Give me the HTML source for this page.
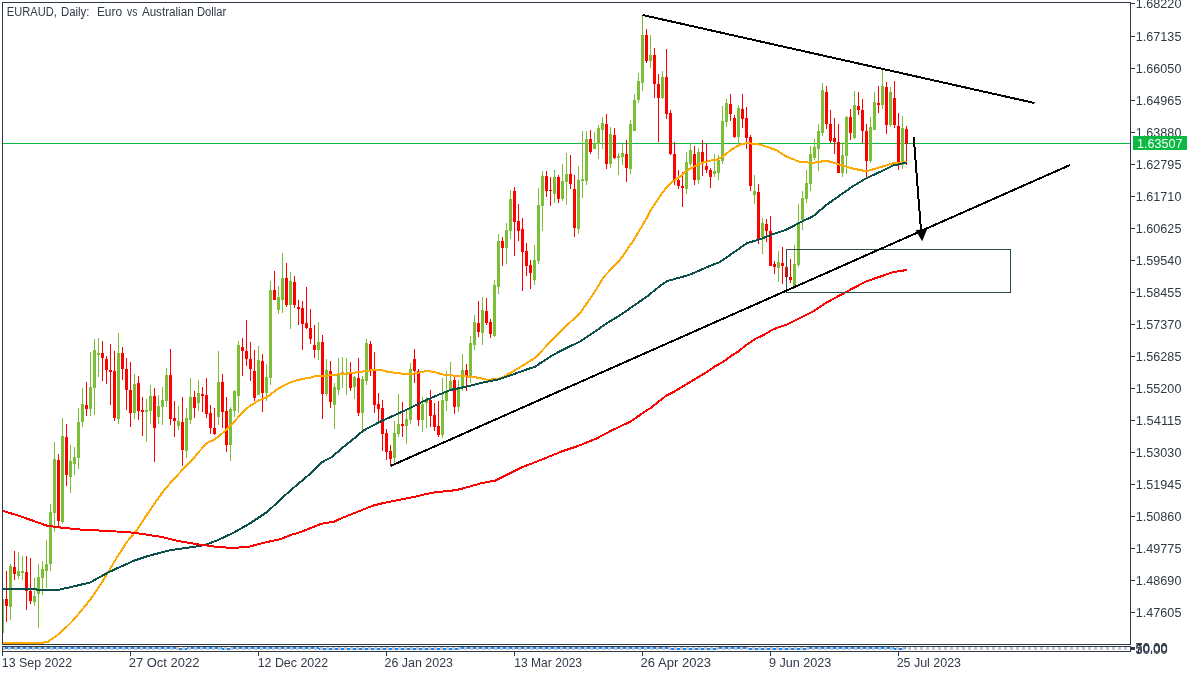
<!DOCTYPE html>
<html><head><meta charset="utf-8"><title>EURAUD Daily</title>
<style>html,body{margin:0;padding:0;background:#fff;overflow:hidden}body{width:1200px;height:675px;position:relative}</style></head>
<body>
<svg width="1200" height="675" viewBox="0 0 1200 675" style="position:absolute;left:0;top:0;will-change:transform">
<rect x="3" y="143" width="1127" height="1" fill="#0BBA42" shape-rendering="crispEdges"/>
<g shape-rendering="crispEdges">
<rect x="3" y="599" width="1" height="34" fill="#7CBE37"/>
<rect x="6" y="571" width="1" height="51" fill="#FF0000"/>
<rect x="5" y="599" width="3" height="7" fill="#FF0000"/>
<rect x="10" y="564" width="1" height="56" fill="#7CBE37"/>
<rect x="9" y="566" width="3" height="41" fill="#7CBE37"/>
<rect x="14" y="551" width="1" height="29" fill="#FF0000"/>
<rect x="13" y="567" width="3" height="7" fill="#FF0000"/>
<rect x="18" y="552" width="1" height="27" fill="#7CBE37"/>
<rect x="17" y="571" width="3" height="5" fill="#7CBE37"/>
<rect x="22" y="556" width="1" height="24" fill="#7CBE37"/>
<rect x="21" y="571" width="3" height="2" fill="#7CBE37"/>
<rect x="26" y="556" width="1" height="54" fill="#FF0000"/>
<rect x="25" y="572" width="3" height="19" fill="#FF0000"/>
<rect x="30" y="558" width="1" height="46" fill="#FF0000"/>
<rect x="29" y="591" width="3" height="10" fill="#FF0000"/>
<rect x="34" y="578" width="1" height="28" fill="#7CBE37"/>
<rect x="33" y="596" width="3" height="6" fill="#7CBE37"/>
<rect x="38" y="564" width="1" height="64" fill="#7CBE37"/>
<rect x="37" y="577" width="3" height="17" fill="#7CBE37"/>
<rect x="42" y="561" width="1" height="34" fill="#7CBE37"/>
<rect x="41" y="569" width="3" height="9" fill="#7CBE37"/>
<rect x="46" y="540" width="1" height="48" fill="#7CBE37"/>
<rect x="45" y="564" width="3" height="7" fill="#7CBE37"/>
<rect x="50" y="504" width="1" height="67" fill="#7CBE37"/>
<rect x="49" y="512" width="3" height="52" fill="#7CBE37"/>
<rect x="54" y="442" width="1" height="90" fill="#7CBE37"/>
<rect x="53" y="459" width="3" height="54" fill="#7CBE37"/>
<rect x="58" y="454" width="1" height="72" fill="#FF0000"/>
<rect x="57" y="460" width="3" height="61" fill="#FF0000"/>
<rect x="62" y="418" width="1" height="106" fill="#7CBE37"/>
<rect x="61" y="436" width="3" height="86" fill="#7CBE37"/>
<rect x="66" y="424" width="1" height="62" fill="#FF0000"/>
<rect x="65" y="437" width="3" height="38" fill="#FF0000"/>
<rect x="70" y="445" width="1" height="48" fill="#7CBE37"/>
<rect x="69" y="461" width="3" height="16" fill="#7CBE37"/>
<rect x="74" y="447" width="1" height="28" fill="#7CBE37"/>
<rect x="73" y="457" width="3" height="7" fill="#7CBE37"/>
<rect x="78" y="408" width="1" height="61" fill="#7CBE37"/>
<rect x="77" y="422" width="3" height="36" fill="#7CBE37"/>
<rect x="82" y="388" width="1" height="39" fill="#7CBE37"/>
<rect x="81" y="404" width="3" height="18" fill="#7CBE37"/>
<rect x="86" y="382" width="1" height="34" fill="#FF0000"/>
<rect x="85" y="405" width="3" height="4" fill="#FF0000"/>
<rect x="90" y="352" width="1" height="64" fill="#7CBE37"/>
<rect x="89" y="387" width="3" height="22" fill="#7CBE37"/>
<rect x="94" y="339" width="1" height="76" fill="#7CBE37"/>
<rect x="93" y="350" width="3" height="38" fill="#7CBE37"/>
<rect x="98" y="338" width="1" height="39" fill="#7CBE37"/>
<rect x="97" y="353" width="3" height="2" fill="#7CBE37"/>
<rect x="102" y="341" width="1" height="40" fill="#FF0000"/>
<rect x="101" y="353" width="3" height="5" fill="#FF0000"/>
<rect x="106" y="356" width="1" height="28" fill="#FF0000"/>
<rect x="105" y="359" width="3" height="11" fill="#FF0000"/>
<rect x="110" y="344" width="1" height="61" fill="#FF0000"/>
<rect x="109" y="370" width="3" height="2" fill="#FF0000"/>
<rect x="114" y="351" width="1" height="70" fill="#FF0000"/>
<rect x="113" y="371" width="3" height="47" fill="#FF0000"/>
<rect x="118" y="333" width="1" height="91" fill="#7CBE37"/>
<rect x="117" y="353" width="3" height="66" fill="#7CBE37"/>
<rect x="122" y="347" width="1" height="33" fill="#FF0000"/>
<rect x="121" y="353" width="3" height="16" fill="#FF0000"/>
<rect x="126" y="358" width="1" height="52" fill="#FF0000"/>
<rect x="125" y="369" width="3" height="21" fill="#FF0000"/>
<rect x="130" y="362" width="1" height="65" fill="#FF0000"/>
<rect x="129" y="390" width="3" height="23" fill="#FF0000"/>
<rect x="134" y="374" width="1" height="45" fill="#7CBE37"/>
<rect x="133" y="384" width="3" height="29" fill="#7CBE37"/>
<rect x="138" y="376" width="1" height="44" fill="#FF0000"/>
<rect x="137" y="383" width="3" height="28" fill="#FF0000"/>
<rect x="142" y="397" width="1" height="39" fill="#FF0000"/>
<rect x="141" y="410" width="3" height="2" fill="#FF0000"/>
<rect x="146" y="399" width="1" height="43" fill="#7CBE37"/>
<rect x="145" y="410" width="3" height="2" fill="#7CBE37"/>
<rect x="150" y="385" width="1" height="39" fill="#7CBE37"/>
<rect x="149" y="396" width="3" height="15" fill="#7CBE37"/>
<rect x="154" y="388" width="1" height="74" fill="#FF0000"/>
<rect x="153" y="396" width="3" height="32" fill="#FF0000"/>
<rect x="158" y="395" width="1" height="29" fill="#7CBE37"/>
<rect x="157" y="406" width="3" height="11" fill="#7CBE37"/>
<rect x="162" y="387" width="1" height="38" fill="#7CBE37"/>
<rect x="161" y="400" width="3" height="7" fill="#7CBE37"/>
<rect x="166" y="368" width="1" height="39" fill="#7CBE37"/>
<rect x="165" y="375" width="3" height="26" fill="#7CBE37"/>
<rect x="170" y="349" width="1" height="76" fill="#FF0000"/>
<rect x="169" y="375" width="3" height="44" fill="#FF0000"/>
<rect x="174" y="401" width="1" height="36" fill="#FF0000"/>
<rect x="173" y="418" width="3" height="3" fill="#FF0000"/>
<rect x="178" y="406" width="1" height="24" fill="#7CBE37"/>
<rect x="177" y="421" width="3" height="5" fill="#7CBE37"/>
<rect x="182" y="397" width="1" height="69" fill="#FF0000"/>
<rect x="181" y="422" width="3" height="28" fill="#FF0000"/>
<rect x="186" y="408" width="1" height="50" fill="#7CBE37"/>
<rect x="185" y="418" width="3" height="33" fill="#7CBE37"/>
<rect x="190" y="378" width="1" height="46" fill="#7CBE37"/>
<rect x="189" y="397" width="3" height="23" fill="#7CBE37"/>
<rect x="194" y="391" width="1" height="27" fill="#FF0000"/>
<rect x="193" y="397" width="3" height="11" fill="#FF0000"/>
<rect x="198" y="380" width="1" height="31" fill="#7CBE37"/>
<rect x="197" y="393" width="3" height="10" fill="#7CBE37"/>
<rect x="202" y="387" width="1" height="25" fill="#FF0000"/>
<rect x="201" y="394" width="3" height="2" fill="#FF0000"/>
<rect x="206" y="378" width="1" height="40" fill="#FF0000"/>
<rect x="205" y="395" width="3" height="19" fill="#FF0000"/>
<rect x="210" y="405" width="1" height="29" fill="#FF0000"/>
<rect x="209" y="413" width="3" height="15" fill="#FF0000"/>
<rect x="214" y="408" width="1" height="27" fill="#FF0000"/>
<rect x="213" y="428" width="3" height="6" fill="#FF0000"/>
<rect x="218" y="351" width="1" height="74" fill="#7CBE37"/>
<rect x="217" y="382" width="3" height="35" fill="#7CBE37"/>
<rect x="222" y="374" width="1" height="54" fill="#FF0000"/>
<rect x="221" y="382" width="3" height="30" fill="#FF0000"/>
<rect x="226" y="397" width="1" height="55" fill="#FF0000"/>
<rect x="225" y="411" width="3" height="34" fill="#FF0000"/>
<rect x="230" y="407" width="1" height="54" fill="#7CBE37"/>
<rect x="229" y="409" width="3" height="36" fill="#7CBE37"/>
<rect x="234" y="390" width="1" height="27" fill="#7CBE37"/>
<rect x="233" y="391" width="3" height="20" fill="#7CBE37"/>
<rect x="238" y="341" width="1" height="72" fill="#7CBE37"/>
<rect x="237" y="345" width="3" height="51" fill="#7CBE37"/>
<rect x="242" y="338" width="1" height="38" fill="#FF0000"/>
<rect x="241" y="347" width="3" height="4" fill="#FF0000"/>
<rect x="246" y="320" width="1" height="46" fill="#FF0000"/>
<rect x="245" y="351" width="3" height="8" fill="#FF0000"/>
<rect x="250" y="342" width="1" height="39" fill="#FF0000"/>
<rect x="249" y="359" width="3" height="10" fill="#FF0000"/>
<rect x="254" y="350" width="1" height="51" fill="#FF0000"/>
<rect x="253" y="371" width="3" height="27" fill="#FF0000"/>
<rect x="258" y="346" width="1" height="49" fill="#7CBE37"/>
<rect x="257" y="360" width="3" height="35" fill="#7CBE37"/>
<rect x="262" y="354" width="1" height="58" fill="#FF0000"/>
<rect x="261" y="361" width="3" height="32" fill="#FF0000"/>
<rect x="266" y="364" width="1" height="37" fill="#7CBE37"/>
<rect x="265" y="377" width="3" height="16" fill="#7CBE37"/>
<rect x="270" y="281" width="1" height="104" fill="#7CBE37"/>
<rect x="269" y="290" width="3" height="88" fill="#7CBE37"/>
<rect x="274" y="271" width="1" height="29" fill="#FF0000"/>
<rect x="273" y="290" width="3" height="10" fill="#FF0000"/>
<rect x="278" y="286" width="1" height="28" fill="#7CBE37"/>
<rect x="277" y="297" width="3" height="13" fill="#7CBE37"/>
<rect x="282" y="253" width="1" height="60" fill="#7CBE37"/>
<rect x="281" y="278" width="3" height="22" fill="#7CBE37"/>
<rect x="286" y="263" width="1" height="44" fill="#FF0000"/>
<rect x="285" y="278" width="3" height="27" fill="#FF0000"/>
<rect x="290" y="272" width="1" height="57" fill="#7CBE37"/>
<rect x="289" y="281" width="3" height="24" fill="#7CBE37"/>
<rect x="294" y="276" width="1" height="32" fill="#FF0000"/>
<rect x="293" y="282" width="3" height="23" fill="#FF0000"/>
<rect x="298" y="300" width="1" height="25" fill="#FF0000"/>
<rect x="297" y="307" width="3" height="2" fill="#FF0000"/>
<rect x="302" y="301" width="1" height="49" fill="#FF0000"/>
<rect x="301" y="308" width="3" height="16" fill="#FF0000"/>
<rect x="306" y="287" width="1" height="42" fill="#FF0000"/>
<rect x="305" y="323" width="3" height="5" fill="#FF0000"/>
<rect x="310" y="309" width="1" height="35" fill="#FF0000"/>
<rect x="309" y="328" width="3" height="11" fill="#FF0000"/>
<rect x="314" y="325" width="1" height="33" fill="#FF0000"/>
<rect x="313" y="345" width="3" height="5" fill="#FF0000"/>
<rect x="318" y="322" width="1" height="38" fill="#7CBE37"/>
<rect x="317" y="342" width="3" height="8" fill="#7CBE37"/>
<rect x="322" y="335" width="1" height="84" fill="#FF0000"/>
<rect x="321" y="342" width="3" height="52" fill="#FF0000"/>
<rect x="326" y="359" width="1" height="37" fill="#7CBE37"/>
<rect x="325" y="370" width="3" height="24" fill="#7CBE37"/>
<rect x="330" y="361" width="1" height="47" fill="#FF0000"/>
<rect x="329" y="371" width="3" height="31" fill="#FF0000"/>
<rect x="334" y="383" width="1" height="46" fill="#7CBE37"/>
<rect x="333" y="387" width="3" height="18" fill="#7CBE37"/>
<rect x="338" y="358" width="1" height="37" fill="#7CBE37"/>
<rect x="337" y="374" width="3" height="16" fill="#7CBE37"/>
<rect x="342" y="357" width="1" height="31" fill="#7CBE37"/>
<rect x="341" y="372" width="3" height="2" fill="#7CBE37"/>
<rect x="346" y="358" width="1" height="37" fill="#7CBE37"/>
<rect x="345" y="373" width="3" height="2" fill="#7CBE37"/>
<rect x="350" y="362" width="1" height="29" fill="#FF0000"/>
<rect x="349" y="373" width="3" height="15" fill="#FF0000"/>
<rect x="354" y="376" width="1" height="23" fill="#7CBE37"/>
<rect x="353" y="377" width="3" height="10" fill="#7CBE37"/>
<rect x="358" y="358" width="1" height="58" fill="#FF0000"/>
<rect x="357" y="378" width="3" height="35" fill="#FF0000"/>
<rect x="362" y="376" width="1" height="54" fill="#7CBE37"/>
<rect x="361" y="379" width="3" height="34" fill="#7CBE37"/>
<rect x="366" y="339" width="1" height="46" fill="#7CBE37"/>
<rect x="365" y="343" width="3" height="38" fill="#7CBE37"/>
<rect x="370" y="341" width="1" height="35" fill="#FF0000"/>
<rect x="369" y="344" width="3" height="26" fill="#FF0000"/>
<rect x="374" y="352" width="1" height="61" fill="#FF0000"/>
<rect x="373" y="370" width="3" height="35" fill="#FF0000"/>
<rect x="378" y="393" width="1" height="28" fill="#FF0000"/>
<rect x="377" y="404" width="3" height="5" fill="#FF0000"/>
<rect x="382" y="400" width="1" height="51" fill="#FF0000"/>
<rect x="381" y="408" width="3" height="26" fill="#FF0000"/>
<rect x="386" y="429" width="1" height="31" fill="#FF0000"/>
<rect x="385" y="433" width="3" height="19" fill="#FF0000"/>
<rect x="390" y="445" width="1" height="20" fill="#FF0000"/>
<rect x="389" y="451" width="3" height="8" fill="#FF0000"/>
<rect x="394" y="421" width="1" height="42" fill="#7CBE37"/>
<rect x="393" y="433" width="3" height="25" fill="#7CBE37"/>
<rect x="398" y="394" width="1" height="43" fill="#7CBE37"/>
<rect x="397" y="424" width="3" height="10" fill="#7CBE37"/>
<rect x="402" y="402" width="1" height="35" fill="#FF0000"/>
<rect x="401" y="424" width="3" height="2" fill="#FF0000"/>
<rect x="406" y="411" width="1" height="33" fill="#7CBE37"/>
<rect x="405" y="419" width="3" height="7" fill="#7CBE37"/>
<rect x="410" y="363" width="1" height="61" fill="#7CBE37"/>
<rect x="409" y="369" width="3" height="51" fill="#7CBE37"/>
<rect x="414" y="349" width="1" height="34" fill="#FF0000"/>
<rect x="413" y="359" width="3" height="12" fill="#FF0000"/>
<rect x="418" y="369" width="1" height="57" fill="#FF0000"/>
<rect x="417" y="371" width="3" height="49" fill="#FF0000"/>
<rect x="422" y="397" width="1" height="35" fill="#7CBE37"/>
<rect x="421" y="404" width="3" height="16" fill="#7CBE37"/>
<rect x="426" y="397" width="1" height="31" fill="#7CBE37"/>
<rect x="425" y="401" width="3" height="2" fill="#7CBE37"/>
<rect x="430" y="390" width="1" height="37" fill="#FF0000"/>
<rect x="429" y="400" width="3" height="16" fill="#FF0000"/>
<rect x="434" y="403" width="1" height="28" fill="#FF0000"/>
<rect x="433" y="415" width="3" height="12" fill="#FF0000"/>
<rect x="438" y="401" width="1" height="36" fill="#FF0000"/>
<rect x="437" y="426" width="3" height="9" fill="#FF0000"/>
<rect x="442" y="378" width="1" height="60" fill="#7CBE37"/>
<rect x="441" y="400" width="3" height="35" fill="#7CBE37"/>
<rect x="446" y="371" width="1" height="40" fill="#7CBE37"/>
<rect x="445" y="391" width="3" height="10" fill="#7CBE37"/>
<rect x="450" y="362" width="1" height="29" fill="#7CBE37"/>
<rect x="449" y="381" width="3" height="9" fill="#7CBE37"/>
<rect x="454" y="377" width="1" height="37" fill="#FF0000"/>
<rect x="453" y="380" width="3" height="27" fill="#FF0000"/>
<rect x="458" y="380" width="1" height="32" fill="#7CBE37"/>
<rect x="457" y="389" width="3" height="18" fill="#7CBE37"/>
<rect x="462" y="354" width="1" height="37" fill="#7CBE37"/>
<rect x="461" y="370" width="3" height="18" fill="#7CBE37"/>
<rect x="466" y="364" width="1" height="27" fill="#FF0000"/>
<rect x="465" y="370" width="3" height="6" fill="#FF0000"/>
<rect x="470" y="336" width="1" height="47" fill="#7CBE37"/>
<rect x="469" y="343" width="3" height="33" fill="#7CBE37"/>
<rect x="474" y="315" width="1" height="35" fill="#7CBE37"/>
<rect x="473" y="322" width="3" height="23" fill="#7CBE37"/>
<rect x="478" y="301" width="1" height="36" fill="#FF0000"/>
<rect x="477" y="323" width="3" height="9" fill="#FF0000"/>
<rect x="482" y="297" width="1" height="48" fill="#7CBE37"/>
<rect x="481" y="310" width="3" height="23" fill="#7CBE37"/>
<rect x="486" y="298" width="1" height="27" fill="#FF0000"/>
<rect x="485" y="311" width="3" height="12" fill="#FF0000"/>
<rect x="490" y="319" width="1" height="19" fill="#FF0000"/>
<rect x="489" y="322" width="3" height="12" fill="#FF0000"/>
<rect x="494" y="280" width="1" height="57" fill="#7CBE37"/>
<rect x="493" y="285" width="3" height="51" fill="#7CBE37"/>
<rect x="498" y="234" width="1" height="60" fill="#7CBE37"/>
<rect x="497" y="241" width="3" height="46" fill="#7CBE37"/>
<rect x="502" y="237" width="1" height="29" fill="#FF0000"/>
<rect x="501" y="241" width="3" height="7" fill="#FF0000"/>
<rect x="506" y="223" width="1" height="41" fill="#7CBE37"/>
<rect x="505" y="230" width="3" height="18" fill="#7CBE37"/>
<rect x="510" y="190" width="1" height="49" fill="#7CBE37"/>
<rect x="509" y="199" width="3" height="32" fill="#7CBE37"/>
<rect x="514" y="187" width="1" height="69" fill="#FF0000"/>
<rect x="513" y="191" width="3" height="31" fill="#FF0000"/>
<rect x="518" y="204" width="1" height="37" fill="#FF0000"/>
<rect x="517" y="221" width="3" height="10" fill="#FF0000"/>
<rect x="522" y="218" width="1" height="73" fill="#FF0000"/>
<rect x="521" y="229" width="3" height="23" fill="#FF0000"/>
<rect x="526" y="243" width="1" height="33" fill="#FF0000"/>
<rect x="525" y="251" width="3" height="15" fill="#FF0000"/>
<rect x="530" y="260" width="1" height="29" fill="#FF0000"/>
<rect x="529" y="265" width="3" height="8" fill="#FF0000"/>
<rect x="534" y="245" width="1" height="40" fill="#7CBE37"/>
<rect x="533" y="260" width="3" height="20" fill="#7CBE37"/>
<rect x="538" y="188" width="1" height="76" fill="#7CBE37"/>
<rect x="537" y="205" width="3" height="56" fill="#7CBE37"/>
<rect x="542" y="171" width="1" height="60" fill="#7CBE37"/>
<rect x="541" y="176" width="3" height="30" fill="#7CBE37"/>
<rect x="546" y="171" width="1" height="26" fill="#FF0000"/>
<rect x="545" y="176" width="3" height="15" fill="#FF0000"/>
<rect x="550" y="177" width="1" height="29" fill="#FF0000"/>
<rect x="549" y="190" width="3" height="1" fill="#FF0000"/>
<rect x="554" y="170" width="1" height="33" fill="#7CBE37"/>
<rect x="553" y="177" width="3" height="17" fill="#7CBE37"/>
<rect x="558" y="175" width="1" height="28" fill="#FF0000"/>
<rect x="557" y="177" width="3" height="22" fill="#FF0000"/>
<rect x="562" y="164" width="1" height="37" fill="#7CBE37"/>
<rect x="561" y="181" width="3" height="18" fill="#7CBE37"/>
<rect x="566" y="153" width="1" height="52" fill="#7CBE37"/>
<rect x="565" y="174" width="3" height="8" fill="#7CBE37"/>
<rect x="570" y="155" width="1" height="34" fill="#FF0000"/>
<rect x="569" y="174" width="3" height="10" fill="#FF0000"/>
<rect x="574" y="175" width="1" height="62" fill="#FF0000"/>
<rect x="573" y="189" width="3" height="39" fill="#FF0000"/>
<rect x="578" y="166" width="1" height="68" fill="#7CBE37"/>
<rect x="577" y="180" width="3" height="49" fill="#7CBE37"/>
<rect x="582" y="131" width="1" height="67" fill="#7CBE37"/>
<rect x="581" y="179" width="3" height="2" fill="#7CBE37"/>
<rect x="586" y="131" width="1" height="54" fill="#7CBE37"/>
<rect x="585" y="139" width="3" height="42" fill="#7CBE37"/>
<rect x="590" y="130" width="1" height="24" fill="#FF0000"/>
<rect x="589" y="139" width="3" height="13" fill="#FF0000"/>
<rect x="594" y="132" width="1" height="17" fill="#7CBE37"/>
<rect x="593" y="143" width="3" height="6" fill="#7CBE37"/>
<rect x="598" y="125" width="1" height="34" fill="#7CBE37"/>
<rect x="597" y="128" width="3" height="16" fill="#7CBE37"/>
<rect x="602" y="117" width="1" height="32" fill="#7CBE37"/>
<rect x="601" y="123" width="3" height="7" fill="#7CBE37"/>
<rect x="606" y="114" width="1" height="55" fill="#FF0000"/>
<rect x="605" y="124" width="3" height="40" fill="#FF0000"/>
<rect x="610" y="127" width="1" height="41" fill="#7CBE37"/>
<rect x="609" y="134" width="3" height="30" fill="#7CBE37"/>
<rect x="614" y="128" width="1" height="31" fill="#FF0000"/>
<rect x="613" y="135" width="3" height="23" fill="#FF0000"/>
<rect x="618" y="153" width="1" height="22" fill="#7CBE37"/>
<rect x="617" y="156" width="3" height="2" fill="#7CBE37"/>
<rect x="622" y="144" width="1" height="21" fill="#7CBE37"/>
<rect x="621" y="153" width="3" height="4" fill="#7CBE37"/>
<rect x="626" y="140" width="1" height="42" fill="#FF0000"/>
<rect x="625" y="154" width="3" height="14" fill="#FF0000"/>
<rect x="630" y="120" width="1" height="54" fill="#7CBE37"/>
<rect x="629" y="124" width="3" height="45" fill="#7CBE37"/>
<rect x="634" y="94" width="1" height="37" fill="#7CBE37"/>
<rect x="633" y="100" width="3" height="31" fill="#7CBE37"/>
<rect x="638" y="73" width="1" height="30" fill="#7CBE37"/>
<rect x="637" y="81" width="3" height="19" fill="#7CBE37"/>
<rect x="642" y="15" width="1" height="76" fill="#7CBE37"/>
<rect x="641" y="35" width="3" height="48" fill="#7CBE37"/>
<rect x="646" y="29" width="1" height="34" fill="#FF0000"/>
<rect x="645" y="35" width="3" height="26" fill="#FF0000"/>
<rect x="650" y="35" width="1" height="33" fill="#7CBE37"/>
<rect x="649" y="55" width="3" height="6" fill="#7CBE37"/>
<rect x="654" y="48" width="1" height="50" fill="#FF0000"/>
<rect x="653" y="55" width="3" height="29" fill="#FF0000"/>
<rect x="658" y="74" width="1" height="68" fill="#FF0000"/>
<rect x="657" y="84" width="3" height="14" fill="#FF0000"/>
<rect x="662" y="71" width="1" height="28" fill="#7CBE37"/>
<rect x="661" y="77" width="3" height="21" fill="#7CBE37"/>
<rect x="666" y="49" width="1" height="70" fill="#FF0000"/>
<rect x="665" y="77" width="3" height="37" fill="#FF0000"/>
<rect x="670" y="110" width="1" height="45" fill="#FF0000"/>
<rect x="669" y="113" width="3" height="41" fill="#FF0000"/>
<rect x="674" y="142" width="1" height="43" fill="#FF0000"/>
<rect x="673" y="154" width="3" height="26" fill="#FF0000"/>
<rect x="678" y="170" width="1" height="19" fill="#FF0000"/>
<rect x="677" y="180" width="3" height="6" fill="#FF0000"/>
<rect x="682" y="172" width="1" height="35" fill="#FF0000"/>
<rect x="681" y="186" width="3" height="2" fill="#FF0000"/>
<rect x="686" y="152" width="1" height="42" fill="#7CBE37"/>
<rect x="685" y="162" width="3" height="27" fill="#7CBE37"/>
<rect x="690" y="143" width="1" height="23" fill="#7CBE37"/>
<rect x="689" y="150" width="3" height="14" fill="#7CBE37"/>
<rect x="694" y="146" width="1" height="39" fill="#FF0000"/>
<rect x="693" y="154" width="3" height="26" fill="#FF0000"/>
<rect x="698" y="148" width="1" height="36" fill="#7CBE37"/>
<rect x="697" y="152" width="3" height="28" fill="#7CBE37"/>
<rect x="702" y="140" width="1" height="36" fill="#FF0000"/>
<rect x="701" y="152" width="3" height="12" fill="#FF0000"/>
<rect x="706" y="143" width="1" height="30" fill="#FF0000"/>
<rect x="705" y="166" width="3" height="4" fill="#FF0000"/>
<rect x="710" y="168" width="1" height="20" fill="#FF0000"/>
<rect x="709" y="170" width="3" height="7" fill="#FF0000"/>
<rect x="714" y="154" width="1" height="23" fill="#7CBE37"/>
<rect x="713" y="171" width="3" height="3" fill="#7CBE37"/>
<rect x="718" y="155" width="1" height="25" fill="#7CBE37"/>
<rect x="717" y="160" width="3" height="13" fill="#7CBE37"/>
<rect x="722" y="106" width="1" height="58" fill="#7CBE37"/>
<rect x="721" y="121" width="3" height="40" fill="#7CBE37"/>
<rect x="726" y="99" width="1" height="28" fill="#7CBE37"/>
<rect x="725" y="103" width="3" height="19" fill="#7CBE37"/>
<rect x="730" y="94" width="1" height="27" fill="#FF0000"/>
<rect x="729" y="104" width="3" height="10" fill="#FF0000"/>
<rect x="734" y="115" width="1" height="23" fill="#FF0000"/>
<rect x="733" y="118" width="3" height="19" fill="#FF0000"/>
<rect x="738" y="105" width="1" height="39" fill="#7CBE37"/>
<rect x="737" y="108" width="3" height="29" fill="#7CBE37"/>
<rect x="742" y="94" width="1" height="34" fill="#FF0000"/>
<rect x="741" y="109" width="3" height="10" fill="#FF0000"/>
<rect x="746" y="107" width="1" height="42" fill="#FF0000"/>
<rect x="745" y="118" width="3" height="20" fill="#FF0000"/>
<rect x="750" y="135" width="1" height="56" fill="#FF0000"/>
<rect x="749" y="137" width="3" height="49" fill="#FF0000"/>
<rect x="754" y="175" width="1" height="29" fill="#7CBE37"/>
<rect x="753" y="191" width="3" height="4" fill="#7CBE37"/>
<rect x="758" y="184" width="1" height="60" fill="#FF0000"/>
<rect x="757" y="192" width="3" height="47" fill="#FF0000"/>
<rect x="762" y="218" width="1" height="36" fill="#7CBE37"/>
<rect x="761" y="223" width="3" height="14" fill="#7CBE37"/>
<rect x="766" y="219" width="1" height="23" fill="#FF0000"/>
<rect x="765" y="224" width="3" height="7" fill="#FF0000"/>
<rect x="770" y="216" width="1" height="50" fill="#FF0000"/>
<rect x="769" y="231" width="3" height="35" fill="#FF0000"/>
<rect x="774" y="261" width="1" height="13" fill="#FF0000"/>
<rect x="773" y="264" width="3" height="3" fill="#FF0000"/>
<rect x="778" y="251" width="1" height="31" fill="#7CBE37"/>
<rect x="777" y="262" width="3" height="6" fill="#7CBE37"/>
<rect x="782" y="247" width="1" height="37" fill="#FF0000"/>
<rect x="781" y="263" width="3" height="3" fill="#FF0000"/>
<rect x="786" y="266" width="1" height="24" fill="#FF0000"/>
<rect x="785" y="267" width="3" height="10" fill="#FF0000"/>
<rect x="790" y="259" width="1" height="24" fill="#FF0000"/>
<rect x="789" y="277" width="3" height="3" fill="#FF0000"/>
<rect x="794" y="245" width="1" height="41" fill="#7CBE37"/>
<rect x="793" y="264" width="3" height="22" fill="#7CBE37"/>
<rect x="798" y="204" width="1" height="63" fill="#7CBE37"/>
<rect x="797" y="222" width="3" height="43" fill="#7CBE37"/>
<rect x="802" y="191" width="1" height="39" fill="#7CBE37"/>
<rect x="801" y="198" width="3" height="22" fill="#7CBE37"/>
<rect x="806" y="170" width="1" height="33" fill="#7CBE37"/>
<rect x="805" y="183" width="3" height="16" fill="#7CBE37"/>
<rect x="810" y="146" width="1" height="45" fill="#7CBE37"/>
<rect x="809" y="154" width="3" height="30" fill="#7CBE37"/>
<rect x="814" y="139" width="1" height="21" fill="#7CBE37"/>
<rect x="813" y="147" width="3" height="11" fill="#7CBE37"/>
<rect x="818" y="124" width="1" height="47" fill="#7CBE37"/>
<rect x="817" y="131" width="3" height="18" fill="#7CBE37"/>
<rect x="822" y="83" width="1" height="53" fill="#7CBE37"/>
<rect x="821" y="90" width="3" height="43" fill="#7CBE37"/>
<rect x="826" y="86" width="1" height="43" fill="#FF0000"/>
<rect x="825" y="92" width="3" height="32" fill="#FF0000"/>
<rect x="830" y="110" width="1" height="33" fill="#FF0000"/>
<rect x="829" y="124" width="3" height="17" fill="#FF0000"/>
<rect x="834" y="118" width="1" height="36" fill="#FF0000"/>
<rect x="833" y="138" width="3" height="4" fill="#FF0000"/>
<rect x="838" y="124" width="1" height="49" fill="#FF0000"/>
<rect x="837" y="142" width="3" height="31" fill="#FF0000"/>
<rect x="842" y="142" width="1" height="35" fill="#7CBE37"/>
<rect x="841" y="155" width="3" height="18" fill="#7CBE37"/>
<rect x="846" y="116" width="1" height="58" fill="#7CBE37"/>
<rect x="845" y="117" width="3" height="39" fill="#7CBE37"/>
<rect x="850" y="109" width="1" height="31" fill="#FF0000"/>
<rect x="849" y="117" width="3" height="16" fill="#FF0000"/>
<rect x="854" y="91" width="1" height="48" fill="#7CBE37"/>
<rect x="853" y="105" width="3" height="33" fill="#7CBE37"/>
<rect x="858" y="92" width="1" height="23" fill="#FF0000"/>
<rect x="857" y="106" width="3" height="4" fill="#FF0000"/>
<rect x="862" y="99" width="1" height="44" fill="#FF0000"/>
<rect x="861" y="110" width="3" height="21" fill="#FF0000"/>
<rect x="866" y="124" width="1" height="54" fill="#FF0000"/>
<rect x="865" y="131" width="3" height="30" fill="#FF0000"/>
<rect x="870" y="117" width="1" height="46" fill="#7CBE37"/>
<rect x="869" y="127" width="3" height="34" fill="#7CBE37"/>
<rect x="874" y="92" width="1" height="38" fill="#7CBE37"/>
<rect x="873" y="102" width="3" height="28" fill="#7CBE37"/>
<rect x="878" y="86" width="1" height="27" fill="#FF0000"/>
<rect x="877" y="103" width="3" height="2" fill="#FF0000"/>
<rect x="882" y="69" width="1" height="40" fill="#7CBE37"/>
<rect x="881" y="86" width="3" height="19" fill="#7CBE37"/>
<rect x="886" y="82" width="1" height="52" fill="#FF0000"/>
<rect x="885" y="87" width="3" height="38" fill="#FF0000"/>
<rect x="890" y="87" width="1" height="40" fill="#7CBE37"/>
<rect x="889" y="92" width="3" height="33" fill="#7CBE37"/>
<rect x="894" y="81" width="1" height="47" fill="#FF0000"/>
<rect x="893" y="98" width="3" height="27" fill="#FF0000"/>
<rect x="898" y="113" width="1" height="57" fill="#FF0000"/>
<rect x="897" y="126" width="3" height="39" fill="#FF0000"/>
<rect x="902" y="116" width="1" height="53" fill="#7CBE37"/>
<rect x="901" y="128" width="3" height="37" fill="#7CBE37"/>
<rect x="906" y="126" width="1" height="39" fill="#FF0000"/>
<rect x="905" y="129" width="3" height="15" fill="#FF0000"/>
</g>
<polyline points="3.0,643.0 43.0,643.0 44.0,642.0 48.0,642.0 52.5,638.3 56.0,636.3 62.0,631.3 71.6,622.0 81.0,611.0 90.0,600.0 99.6,586.0 109.0,570.7 118.0,555.7 127.6,541.0 137.0,530.0 146.0,516.0 155.6,502.0 165.0,489.0 174.0,479.0 183.6,468.6 193.0,459.0 200.0,450.5 207.4,442.8 214.5,439.5 222.2,433.3 229.6,426.7 237.0,418.5 244.4,410.4 248.9,406.7 254.8,403.0 259.3,400.0 263.7,398.8 269.6,395.3 275.6,390.4 281.5,386.7 288.9,383.0 296.3,380.4 303.7,378.8 311.1,377.5 317.0,375.6 320.4,376.4 342.0,374.0 361.0,371.8 376.4,369.6 382.6,370.4 387.0,371.6 396.0,372.9 404.8,374.0 412.0,374.0 420.0,372.2 428.0,370.8 436.0,372.5 444.0,374.8 459.0,376.0 474.0,377.0 487.4,379.7 494.8,379.3 500.8,378.2 510.0,373.3 522.6,365.6 535.0,357.8 540.0,352.7 553.3,338.8 566.7,325.5 580.0,313.2 593.3,294.0 604.0,276.7 620.0,259.9 633.3,240.7 646.7,218.0 650.0,211.5 657.4,200.0 664.8,189.5 672.2,181.5 679.6,177.0 687.0,170.4 694.4,166.4 701.9,163.0 709.3,160.7 716.7,160.0 724.0,155.6 731.5,149.6 738.9,145.2 746.8,142.9 760.6,144.7 776.0,150.0 786.7,156.7 800.0,162.0 813.3,162.8 826.7,160.7 840.0,164.7 853.3,168.7 866.7,171.3 880.0,167.3 893.3,163.3 906.7,162.0" fill="none" stroke="#FFA800" stroke-width="2" stroke-linejoin="round" shape-rendering="crispEdges"/>
<polyline points="3.0,589.3 31.0,588.7 40.0,590.0 57.6,590.0 71.6,586.9 90.0,582.5 109.0,572.0 134.0,560.7 149.0,555.7 171.0,550.0 193.0,547.0 205.0,545.0 218.0,540.0 233.0,533.0 249.0,524.0 267.6,511.6 280.0,499.9 290.4,490.5 300.7,481.8 311.1,472.9 321.5,462.5 331.9,456.9 342.2,448.0 352.6,439.7 363.0,430.8 373.4,425.2 383.7,420.0 388.9,417.8 404.4,410.7 420.0,402.9 435.5,396.0 451.0,389.8 466.6,386.7 482.0,382.7 497.7,379.5 513.3,374.3 528.8,368.7 535.0,367.0 540.0,363.3 553.3,354.8 566.7,347.9 580.0,341.5 593.3,332.7 606.7,323.3 620.0,315.3 633.3,306.0 646.7,296.7 660.0,286.0 666.7,281.2 680.0,277.5 687.0,275.5 693.3,273.2 706.7,267.3 720.0,262.0 733.3,252.7 746.7,243.3 760.0,239.3 773.3,234.0 786.7,229.5 800.0,222.5 813.3,216.1 826.7,204.7 840.0,195.3 853.3,186.0 866.7,178.0 880.0,171.9 893.3,165.5 906.7,162.5" fill="none" stroke="#0B504B" stroke-width="2" stroke-linejoin="round" shape-rendering="crispEdges"/>
<polyline points="3.0,511.0 15.5,514.7 31.0,520.0 46.7,525.6 62.0,527.7 81.0,529.6 109.0,531.0 134.0,532.7 162.0,537.0 180.0,541.4 199.0,544.5 218.0,547.0 233.0,548.0 249.0,546.7 264.0,542.7 280.0,539.3 290.4,535.1 300.7,532.0 311.1,527.9 321.5,523.7 334.0,521.7 342.2,517.9 352.6,513.8 363.0,509.6 373.4,505.5 383.7,503.0 394.1,500.9 404.5,498.8 414.9,496.8 425.2,494.3 435.6,492.2 446.0,491.2 456.3,490.1 466.7,487.4 482.0,483.0 495.2,480.6 520.4,468.0 545.6,458.0 563.2,450.9 578.3,445.9 595.9,438.8 611.0,430.8 631.2,421.2 646.3,410.5 650.0,408.6 658.1,402.1 666.3,395.6 674.4,391.5 682.6,386.6 690.7,381.7 698.9,376.8 707.0,371.9 715.2,366.2 723.3,361.8 731.5,355.6 739.6,350.7 744.5,346.2 751.0,341.8 755.9,338.5 764.1,334.8 773.3,329.2 786.7,324.7 800.0,318.0 813.3,311.3 826.7,302.5 840.0,295.3 853.3,288.1 866.7,281.2 880.0,276.7 893.3,272.1 906.7,270.0" fill="none" stroke="#FF0000" stroke-width="2" stroke-linejoin="round" shape-rendering="crispEdges"/>
<rect x="786.5" y="249.5" width="224" height="43" fill="none" stroke="#2F4F4F" stroke-width="1"/>
<line x1="642.5" y1="15" x2="1034.5" y2="103" stroke="#000" stroke-width="2" shape-rendering="crispEdges"/>
<line x1="390.5" y1="466" x2="1070" y2="165" stroke="#000" stroke-width="2" shape-rendering="crispEdges"/>
<line x1="913.7" y1="137" x2="921.2" y2="233" stroke="#000" stroke-width="2" shape-rendering="crispEdges"/>
<polygon points="915.6,230.2 927.4,228.4 922.2,241.2" fill="#000"/>
<g shape-rendering="crispEdges" fill="#2F3A48">
<rect x="2" y="2" width="1129" height="1"/>
<rect x="2" y="2" width="1" height="643"/>
<rect x="2" y="646" width="1" height="10"/>
<rect x="1130" y="2" width="1" height="643"/>
<rect x="1130" y="646" width="1" height="6"/>
<rect x="2" y="644" width="1129" height="1"/>
<rect x="2" y="646" width="1129" height="1"/>
<rect x="2" y="651" width="1129" height="1"/>
<rect x="1131" y="3" width="4" height="1"/>
<rect x="1131" y="36" width="4" height="1"/>
<rect x="1131" y="68" width="4" height="1"/>
<rect x="1131" y="100" width="4" height="1"/>
<rect x="1131" y="132" width="4" height="1"/>
<rect x="1131" y="164" width="4" height="1"/>
<rect x="1131" y="196" width="4" height="1"/>
<rect x="1131" y="228" width="4" height="1"/>
<rect x="1131" y="260" width="4" height="1"/>
<rect x="1131" y="292" width="4" height="1"/>
<rect x="1131" y="324" width="4" height="1"/>
<rect x="1131" y="356" width="4" height="1"/>
<rect x="1131" y="388" width="4" height="1"/>
<rect x="1131" y="420" width="4" height="1"/>
<rect x="1131" y="452" width="4" height="1"/>
<rect x="1131" y="484" width="4" height="1"/>
<rect x="1131" y="516" width="4" height="1"/>
<rect x="1131" y="548" width="4" height="1"/>
<rect x="1131" y="580" width="4" height="1"/>
<rect x="1131" y="612" width="4" height="1"/>
<rect x="1131" y="647" width="4" height="3"/>
<rect x="2" y="652" width="1" height="4"/>
<rect x="130" y="652" width="1" height="4"/>
<rect x="258" y="652" width="1" height="4"/>
<rect x="386" y="652" width="1" height="4"/>
<rect x="514" y="652" width="1" height="4"/>
<rect x="642" y="652" width="1" height="4"/>
<rect x="770" y="652" width="1" height="4"/>
<rect x="898" y="652" width="1" height="4"/>
</g>
<g shape-rendering="crispEdges">
<rect x="3" y="647" width="176" height="2" fill="#1787FF"/>
<rect x="179" y="648" width="3" height="2" fill="#1787FF"/>
<rect x="182" y="647" width="3" height="2" fill="#1787FF"/>
<rect x="185" y="648" width="2" height="2" fill="#1787FF"/>
<rect x="187" y="647" width="35" height="2" fill="#1787FF"/>
<rect x="222" y="648" width="2" height="2" fill="#1787FF"/>
<rect x="224" y="647" width="3" height="2" fill="#1787FF"/>
<rect x="227" y="648" width="3" height="2" fill="#1787FF"/>
<rect x="230" y="647" width="89" height="2" fill="#1787FF"/>
<rect x="319" y="648" width="140" height="2" fill="#1787FF"/>
<rect x="459" y="647" width="212" height="2" fill="#1787FF"/>
<rect x="671" y="648" width="48" height="2" fill="#1787FF"/>
<rect x="719" y="647" width="30" height="2" fill="#1787FF"/>
<rect x="749" y="648" width="58" height="2" fill="#1787FF"/>
<rect x="807" y="647" width="87" height="2" fill="#1787FF"/>
<rect x="894" y="648" width="9" height="2" fill="#1787FF"/>
<rect x="903" y="647" width="3" height="2" fill="#1787FF"/>
<path d="M3 647h2v3h-2zM8 647h3v3h-3zM14 647h3v3h-3zM20 647h3v3h-3zM26 647h3v3h-3zM32 647h3v3h-3zM38 647h3v3h-3zM44 647h3v3h-3zM50 647h3v3h-3zM56 647h3v3h-3zM62 647h3v3h-3zM68 647h3v3h-3zM74 647h3v3h-3zM80 647h3v3h-3zM86 647h3v3h-3zM92 647h3v3h-3zM98 647h3v3h-3zM104 647h3v3h-3zM110 647h3v3h-3zM116 647h3v3h-3zM122 647h3v3h-3zM128 647h3v3h-3zM134 647h3v3h-3zM140 647h3v3h-3zM146 647h3v3h-3zM152 647h3v3h-3zM158 647h3v3h-3zM164 647h3v3h-3zM170 647h3v3h-3zM176 647h3v3h-3zM182 647h3v3h-3zM188 647h3v3h-3zM194 647h3v3h-3zM200 647h3v3h-3zM206 647h3v3h-3zM212 647h3v3h-3zM218 647h3v3h-3zM224 647h3v3h-3zM230 647h3v3h-3zM236 647h3v3h-3zM242 647h3v3h-3zM248 647h3v3h-3zM254 647h3v3h-3zM260 647h3v3h-3zM266 647h3v3h-3zM272 647h3v3h-3zM278 647h3v3h-3zM284 647h3v3h-3zM290 647h3v3h-3zM296 647h3v3h-3zM302 647h3v3h-3zM308 647h3v3h-3zM314 647h3v3h-3zM320 647h3v3h-3zM326 647h3v3h-3zM332 647h3v3h-3zM338 647h3v3h-3zM344 647h3v3h-3zM350 647h3v3h-3zM356 647h3v3h-3zM362 647h3v3h-3zM368 647h3v3h-3zM374 647h3v3h-3zM380 647h3v3h-3zM386 647h3v3h-3zM392 647h3v3h-3zM398 647h3v3h-3zM404 647h3v3h-3zM410 647h3v3h-3zM416 647h3v3h-3zM422 647h3v3h-3zM428 647h3v3h-3zM434 647h3v3h-3zM440 647h3v3h-3zM446 647h3v3h-3zM452 647h3v3h-3zM458 647h3v3h-3zM464 647h3v3h-3zM470 647h3v3h-3zM476 647h3v3h-3zM482 647h3v3h-3zM488 647h3v3h-3zM494 647h3v3h-3zM500 647h3v3h-3zM506 647h3v3h-3zM512 647h3v3h-3zM518 647h3v3h-3zM524 647h3v3h-3zM530 647h3v3h-3zM536 647h3v3h-3zM542 647h3v3h-3zM548 647h3v3h-3zM554 647h3v3h-3zM560 647h3v3h-3zM566 647h3v3h-3zM572 647h3v3h-3zM578 647h3v3h-3zM584 647h3v3h-3zM590 647h3v3h-3zM596 647h3v3h-3zM602 647h3v3h-3zM608 647h3v3h-3zM614 647h3v3h-3zM620 647h3v3h-3zM626 647h3v3h-3zM632 647h3v3h-3zM638 647h3v3h-3zM644 647h3v3h-3zM650 647h3v3h-3zM656 647h3v3h-3zM662 647h3v3h-3zM668 647h3v3h-3zM674 647h3v3h-3zM680 647h3v3h-3zM686 647h3v3h-3zM692 647h3v3h-3zM698 647h3v3h-3zM704 647h3v3h-3zM710 647h3v3h-3zM716 647h3v3h-3zM722 647h3v3h-3zM728 647h3v3h-3zM734 647h3v3h-3zM740 647h3v3h-3zM746 647h3v3h-3zM752 647h3v3h-3zM758 647h3v3h-3zM764 647h3v3h-3zM770 647h3v3h-3zM776 647h3v3h-3zM782 647h3v3h-3zM788 647h3v3h-3zM794 647h3v3h-3zM800 647h3v3h-3zM806 647h3v3h-3zM812 647h3v3h-3zM818 647h3v3h-3zM824 647h3v3h-3zM830 647h3v3h-3zM836 647h3v3h-3zM842 647h3v3h-3zM848 647h3v3h-3zM854 647h3v3h-3zM860 647h3v3h-3zM866 647h3v3h-3zM872 647h3v3h-3zM878 647h3v3h-3zM884 647h3v3h-3zM890 647h3v3h-3zM896 647h3v3h-3zM902 647h3v3h-3zM908 647h3v3h-3zM914 647h3v3h-3zM920 647h3v3h-3zM926 647h3v3h-3zM932 647h3v3h-3zM938 647h3v3h-3zM944 647h3v3h-3zM950 647h3v3h-3zM956 647h3v3h-3zM962 647h3v3h-3zM968 647h3v3h-3zM974 647h3v3h-3zM980 647h3v3h-3zM986 647h3v3h-3zM992 647h3v3h-3zM998 647h3v3h-3zM1004 647h3v3h-3zM1010 647h3v3h-3zM1016 647h3v3h-3zM1022 647h3v3h-3zM1028 647h3v3h-3zM1034 647h3v3h-3zM1040 647h3v3h-3zM1046 647h3v3h-3zM1052 647h3v3h-3zM1058 647h3v3h-3zM1064 647h3v3h-3zM1070 647h3v3h-3zM1076 647h3v3h-3zM1082 647h3v3h-3zM1088 647h3v3h-3zM1094 647h3v3h-3zM1100 647h3v3h-3zM1106 647h3v3h-3zM1112 647h3v3h-3zM1118 647h3v3h-3zM1124 647h3v3h-3z" fill="#C6C6C6"/>
</g>
<g font-family="Liberation Sans, Arial, sans-serif" font-size="12px" fill="#2F3A48" opacity="0.999">
<text y="16"><tspan x="6.87" textLength="50.07" lengthAdjust="spacingAndGlyphs">EURAUD,</tspan> <tspan x="61.05" textLength="28.41" lengthAdjust="spacingAndGlyphs">Daily:</tspan> <tspan x="96.91" textLength="25.15" lengthAdjust="spacingAndGlyphs">Euro</tspan> <tspan x="127.1" textLength="10.2" lengthAdjust="spacingAndGlyphs">vs</tspan> <tspan x="141.9" textLength="51.76" lengthAdjust="spacingAndGlyphs">Australian</tspan> <tspan x="196.97" textLength="29.25" lengthAdjust="spacingAndGlyphs">Dollar</tspan></text>
<text x="1135.85" y="8" textLength="45.56" lengthAdjust="spacingAndGlyphs">1.68220</text>
<text x="1135.85" y="41" textLength="45.56" lengthAdjust="spacingAndGlyphs">1.67135</text>
<text x="1135.85" y="73" textLength="45.56" lengthAdjust="spacingAndGlyphs">1.66050</text>
<text x="1135.85" y="105" textLength="45.56" lengthAdjust="spacingAndGlyphs">1.64965</text>
<text x="1135.85" y="137" textLength="45.56" lengthAdjust="spacingAndGlyphs">1.63880</text>
<text x="1135.85" y="169" textLength="45.56" lengthAdjust="spacingAndGlyphs">1.62795</text>
<text x="1135.85" y="201" textLength="45.56" lengthAdjust="spacingAndGlyphs">1.61710</text>
<text x="1135.85" y="233" textLength="45.56" lengthAdjust="spacingAndGlyphs">1.60625</text>
<text x="1135.85" y="265" textLength="45.56" lengthAdjust="spacingAndGlyphs">1.59540</text>
<text x="1135.85" y="297" textLength="45.56" lengthAdjust="spacingAndGlyphs">1.58455</text>
<text x="1135.85" y="329" textLength="45.56" lengthAdjust="spacingAndGlyphs">1.57370</text>
<text x="1135.85" y="361" textLength="45.56" lengthAdjust="spacingAndGlyphs">1.56285</text>
<text x="1135.85" y="393" textLength="45.56" lengthAdjust="spacingAndGlyphs">1.55200</text>
<text x="1135.85" y="425" textLength="45.56" lengthAdjust="spacingAndGlyphs">1.54115</text>
<text x="1135.85" y="457" textLength="45.56" lengthAdjust="spacingAndGlyphs">1.53030</text>
<text x="1135.85" y="489" textLength="45.56" lengthAdjust="spacingAndGlyphs">1.51945</text>
<text x="1135.85" y="521" textLength="45.56" lengthAdjust="spacingAndGlyphs">1.50860</text>
<text x="1135.85" y="553" textLength="45.56" lengthAdjust="spacingAndGlyphs">1.49775</text>
<text x="1135.85" y="585" textLength="45.56" lengthAdjust="spacingAndGlyphs">1.48690</text>
<text x="1135.85" y="617" textLength="45.56" lengthAdjust="spacingAndGlyphs">1.47605</text>
<rect x="1133" y="136" width="54" height="14" fill="#0BBA42" shape-rendering="crispEdges"/>
<text x="1136.95" y="148" textLength="45.46" lengthAdjust="spacingAndGlyphs" fill="#fff">1.63507</text>
<text x="1135.53" y="652" textLength="32.1" lengthAdjust="spacingAndGlyphs">70.00</text>
<text x="1135.53" y="653" textLength="32.1" lengthAdjust="spacingAndGlyphs">50.00</text>
<text x="1135.53" y="654" textLength="32.1" lengthAdjust="spacingAndGlyphs">30.00</text>
<text x="1.87" y="667" textLength="70.3" lengthAdjust="spacingAndGlyphs">13 Sep 2022</text>
<text x="128.72" y="667" textLength="70.7" lengthAdjust="spacingAndGlyphs">27 Oct 2022</text>
<text x="257.67" y="667" textLength="70.4" lengthAdjust="spacingAndGlyphs">12 Dec 2022</text>
<text x="384.46" y="667" textLength="68.6" lengthAdjust="spacingAndGlyphs">26 Jan 2023</text>
<text x="514.29" y="667" textLength="67.8" lengthAdjust="spacingAndGlyphs">13 Mar 2023</text>
<text x="640.61" y="667" textLength="70.39" lengthAdjust="spacingAndGlyphs">26 Apr 2023</text>
<text x="768.95" y="667" textLength="62.46" lengthAdjust="spacingAndGlyphs">9 Jun 2023</text>
<text x="896.66" y="667" textLength="64.4" lengthAdjust="spacingAndGlyphs">25 Jul 2023</text>
</g>
</svg>
</body></html>
